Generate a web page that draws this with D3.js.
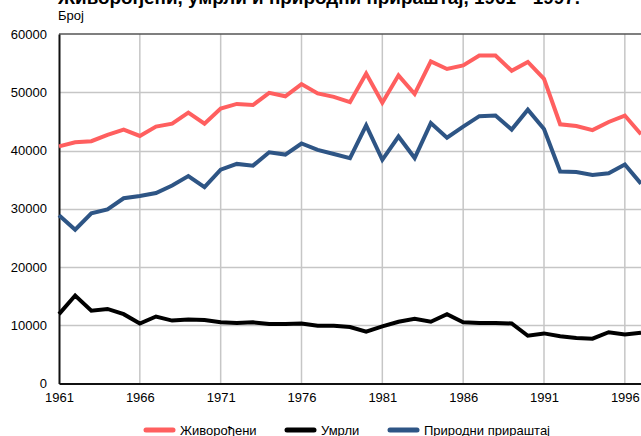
<!DOCTYPE html>
<html lang="sr">
<head>
<meta charset="UTF-8">
<title>Живорођени, умрли и природни прираштај</title>
<script src="https://cdn.jsdelivr.net/npm/d3@7"></script>
<style>
  body { margin: 0; background: #fff; }
  text { font-family: "Liberation Sans", Arial, sans-serif; }
</style>
</head>
<body>
<script>
// подаци прочитани са графикона
const years = d3.range(1961, 1998);
const zivorodjeni = [40700, 41400, 41600, 42700, 43600, 42500, 44100, 44600, 46500, 44600,
  47200, 48000, 47800, 49900, 49300, 51400, 49800, 49200, 48300, 53200,
  48200, 52900, 49700, 55300, 54000, 54600, 56300, 56300, 53700, 55200,
  52300, 44500, 44200, 43500, 44900, 46000, 42800];
const umrli = [11900, 15100, 12500, 12800, 11900, 10300, 11500, 10800, 11000, 10900,
  10500, 10400, 10500, 10200, 10200, 10300, 9900, 9900, 9700, 8900,
  9800, 10600, 11100, 10600, 11900, 10500, 10400, 10400, 10300, 8200,
  8600, 8100, 7800, 7700, 8800, 8400, 8700];
const prirast = [28900, 26400, 29200, 29900, 31800, 32200, 32700, 34000, 35600, 33700,
  36700, 37700, 37400, 39700, 39300, 41200, 40100, 39400, 38700, 44300,
  38400, 42400, 38700, 44700, 42200, 44100, 45900, 46000, 43600, 47000,
  43700, 36400, 36300, 35800, 36100, 37600, 34300];
const yTicks = [0, 10000, 20000, 30000, 40000, 50000, 60000];
const xTicks = [1961, 1966, 1971, 1976, 1981, 1986, 1991, 1996];

const series = [
  { name: "Живорођени", values: zivorodjeni, color: "#ff5f5f" },
  { name: "Умрли", values: umrli, color: "#000000" },
  { name: "Природни прираштај", values: prirast, color: "#2e5585" }
];

const width = 641, height = 436;
const margin = { top: 34, right: 0, bottom: 53, left: 59 };

const x = d3.scaleLinear().domain([1961, 1997]).range([margin.left, width - margin.right]);
const y = d3.scaleLinear().domain([0, 60000]).range([height - margin.bottom + 0.5, margin.top]);

const svg = d3.select("body").append("svg")
    .attr("width", width)
    .attr("height", height);

// наслов (делимично одсечен на врху)
svg.append("text")
    .attr("x", 58)
    .attr("y", 4)
    .attr("font-weight", "bold")
    .attr("font-size", 19)
    .attr("textLength", 522)
    .attr("lengthAdjust", "spacingAndGlyphs")
    .text("Живорођени, умрли и природни прираштај, 1961 - 1997.");

svg.append("text")
    .attr("x", 58)
    .attr("y", 20)
    .attr("font-size", 13)
    .text("Број");

// мрежа
svg.append("g")
  .selectAll("line")
  .data(yTicks.slice(1, -1))
  .join("line")
    .attr("x1", x(1961)).attr("x2", x(1997))
    .attr("y1", d => Math.round(y(d)) + 0.5).attr("y2", d => Math.round(y(d)) + 0.5)
    .attr("stroke", "#c6c6c6").attr("stroke-width", 1.5);

svg.append("g")
  .selectAll("line")
  .data(xTicks.slice(1))
  .join("line")
    .attr("x1", d => x(d)).attr("x2", d => x(d))
    .attr("y1", y(60000)).attr("y2", y(0))
    .attr("stroke", "#c6c6c6").attr("stroke-width", 1.5);

// горња ивица
svg.append("line")
    .attr("x1", x(1961)).attr("x2", x(1997))
    .attr("y1", y(60000)).attr("y2", y(60000))
    .attr("stroke", "#555").attr("stroke-width", 1.5);

// осе
const yAxis = svg.append("g")
    .attr("transform", `translate(${x(1961)},0)`)
    .call(d3.axisLeft(y).tickValues(yTicks).tickSize(0).tickPadding(12).tickFormat(d3.format("d")));
yAxis.select(".domain").attr("stroke", "#111").attr("stroke-width", 2);
yAxis.selectAll("text").attr("font-size", 13).attr("fill", "#000");

const xAxis = svg.append("g")
    .attr("transform", `translate(0,${y(0)})`)
    .call(d3.axisBottom(x).tickValues(xTicks).tickSize(0).tickPadding(9).tickFormat(d3.format("d")));
xAxis.select(".domain").attr("stroke", "#111").attr("stroke-width", 2);
xAxis.selectAll("text").attr("font-size", 13).attr("fill", "#000");

// линије
const line = d3.line()
    .x((d, i) => x(years[i]))
    .y(d => y(d));

svg.append("g")
  .selectAll("path")
  .data(series)
  .join("path")
    .attr("fill", "none")
    .attr("stroke", d => d.color)
    .attr("stroke-width", 4)
    .attr("stroke-linejoin", "miter")
    .attr("d", d => line(d.values));

// легенда
const legendX = [146, 287, 390];
const legend = svg.append("g")
  .selectAll("g")
  .data(series)
  .join("g")
    .attr("transform", (d, i) => `translate(${legendX[i]},430)`);

legend.append("line")
    .attr("x1", 0).attr("x2", 27)
    .attr("stroke", d => d.color)
    .attr("stroke-width", 5)
    .attr("stroke-linecap", "round");

legend.append("text")
    .attr("x", 34)
    .attr("y", 5)
    .attr("font-size", 13)
    .text(d => d.name);
</script>
</body>
</html>
